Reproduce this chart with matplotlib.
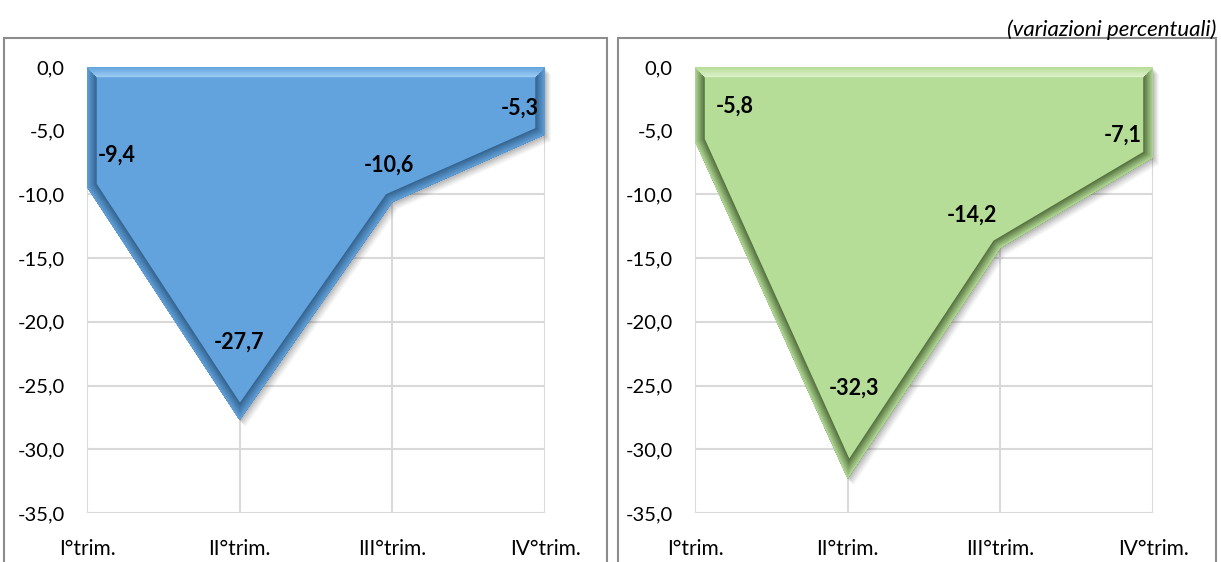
import numpy as np
import matplotlib.pyplot as plt
import matplotlib.transforms as mtransforms
from matplotlib.patches import Rectangle, Polygon
from matplotlib.colors import to_rgb

plt.rcParams['font.family'] = ['Lato', 'DejaVu Sans']

# quarterly changes (%)
quarters = ['I°trim.', 'II°trim.', 'III°trim.', 'IV°trim.']
left_values = [-9.4, -27.7, -10.6, -5.3]
right_values = [-5.8, -32.3, -14.2, -7.1]

# label offsets in pixels from each point
left_offsets = [(30, 32), (-1, 78), (-3, 37), (-25, 26)]
right_offsets = [(40, 35), (6, 90), (-28, 33), (-30, 22)]

yticks = np.arange(-35, 0.1, 5)


def mix(c1, c2, t):
    a, b = np.array(to_rgb(c1)), np.array(to_rgb(c2))
    return tuple(a + (b - a) * t)


def draw_panel(ax, values, offsets, fill, dark, light):
    x = np.arange(len(values))
    ax.set_xlim(0, len(values) - 1)
    ax.set_ylim(-35, 0)
    ax.set_xticks(x)
    ax.set_xticklabels(quarters)
    ax.set_yticks(yticks)
    ax.set_yticklabels([f'{v:.1f}'.replace('.', ',') for v in yticks])
    ax.tick_params(length=0, colors='black')
    ax.tick_params(axis='y', pad=16, labelsize=14.5)
    ax.tick_params(axis='x', pad=19, labelsize=15)
    ax.grid(True, color='#D9D9D9', lw=1.5, zorder=0)
    ax.set_axisbelow(True)
    for s in ax.spines.values():
        s.set_visible(False)

    pts = [(0, 0), (x[-1], 0)] + list(zip(x[::-1], values[::-1]))

    # soft drop shadow
    for i, a in enumerate([0.09, 0.08, 0.07, 0.06, 0.05, 0.04]):
        tr = mtransforms.offset_copy(ax.transData, fig=ax.figure,
                                     x=1 + i, y=-(2 + i), units='dots')
        ax.add_patch(Polygon(pts, closed=True, transform=tr, fc='#404040',
                             ec='none', alpha=a, zorder=2, clip_on=False))

    poly = Polygon(pts, closed=True, fc=fill, ec='none', zorder=3, clip_on=False)
    ax.add_patch(poly)

    # bevel: dark band on lower/side edges, light band along the top
    edge_x = [0, 0] + list(x) + [x[-1], x[-1]]
    edge_y = [0, values[0]] + list(values) + [values[-1], 0]
    n = 16
    for i in range(n):
        t = i / n
        ln, = ax.plot(edge_x, edge_y, color=mix(dark, fill, t),
                      lw=14 * (1 - t), solid_joinstyle='miter', zorder=4)
        ln.set_clip_path(poly)
        hl, = ax.plot([0, x[-1]], [0, 0], color=mix(light, fill, t),
                      lw=14 * (1 - t), zorder=4)
        hl.set_clip_path(poly)

    for xi, v, (dx, dy) in zip(x, values, offsets):
        ax.annotate(f'{v:.1f}'.replace('.', ','), (xi, v), xytext=(dx, dy),
                    textcoords='offset pixels', ha='center', va='center',
                    fontsize=15.5, fontweight='bold', color='black', zorder=6)


fig = plt.figure(figsize=(12.21, 5.62), dpi=100)

# panel frames
fig.patches.append(Rectangle((4 / 1221, -0.1), 603 / 1221, 1.1 - 38 / 562,
                             transform=fig.transFigure, fill=False,
                             ec='#8C8C8C', lw=1.5))
fig.patches.append(Rectangle((618 / 1221, -0.1), 598 / 1221, 1.1 - 38 / 562,
                             transform=fig.transFigure, fill=False,
                             ec='#8C8C8C', lw=1.5))

ax1 = fig.add_axes([87 / 1221, 1 - 513 / 562, 458 / 1221, 446 / 562])
ax2 = fig.add_axes([695 / 1221, 1 - 513 / 562, 458 / 1221, 446 / 562])

draw_panel(ax1, left_values, left_offsets, '#62A3DE', '#35648F', '#9CCBF2')
draw_panel(ax2, right_values, right_offsets, '#B5DD97', '#55713F', '#DDF1CB')

fig.text(1216 / 1221, 1 - 30 / 562, '(variazioni percentuali)', ha='right',
         va='center', fontsize=16, style='italic')

fig.savefig('out.png', dpi=100)
